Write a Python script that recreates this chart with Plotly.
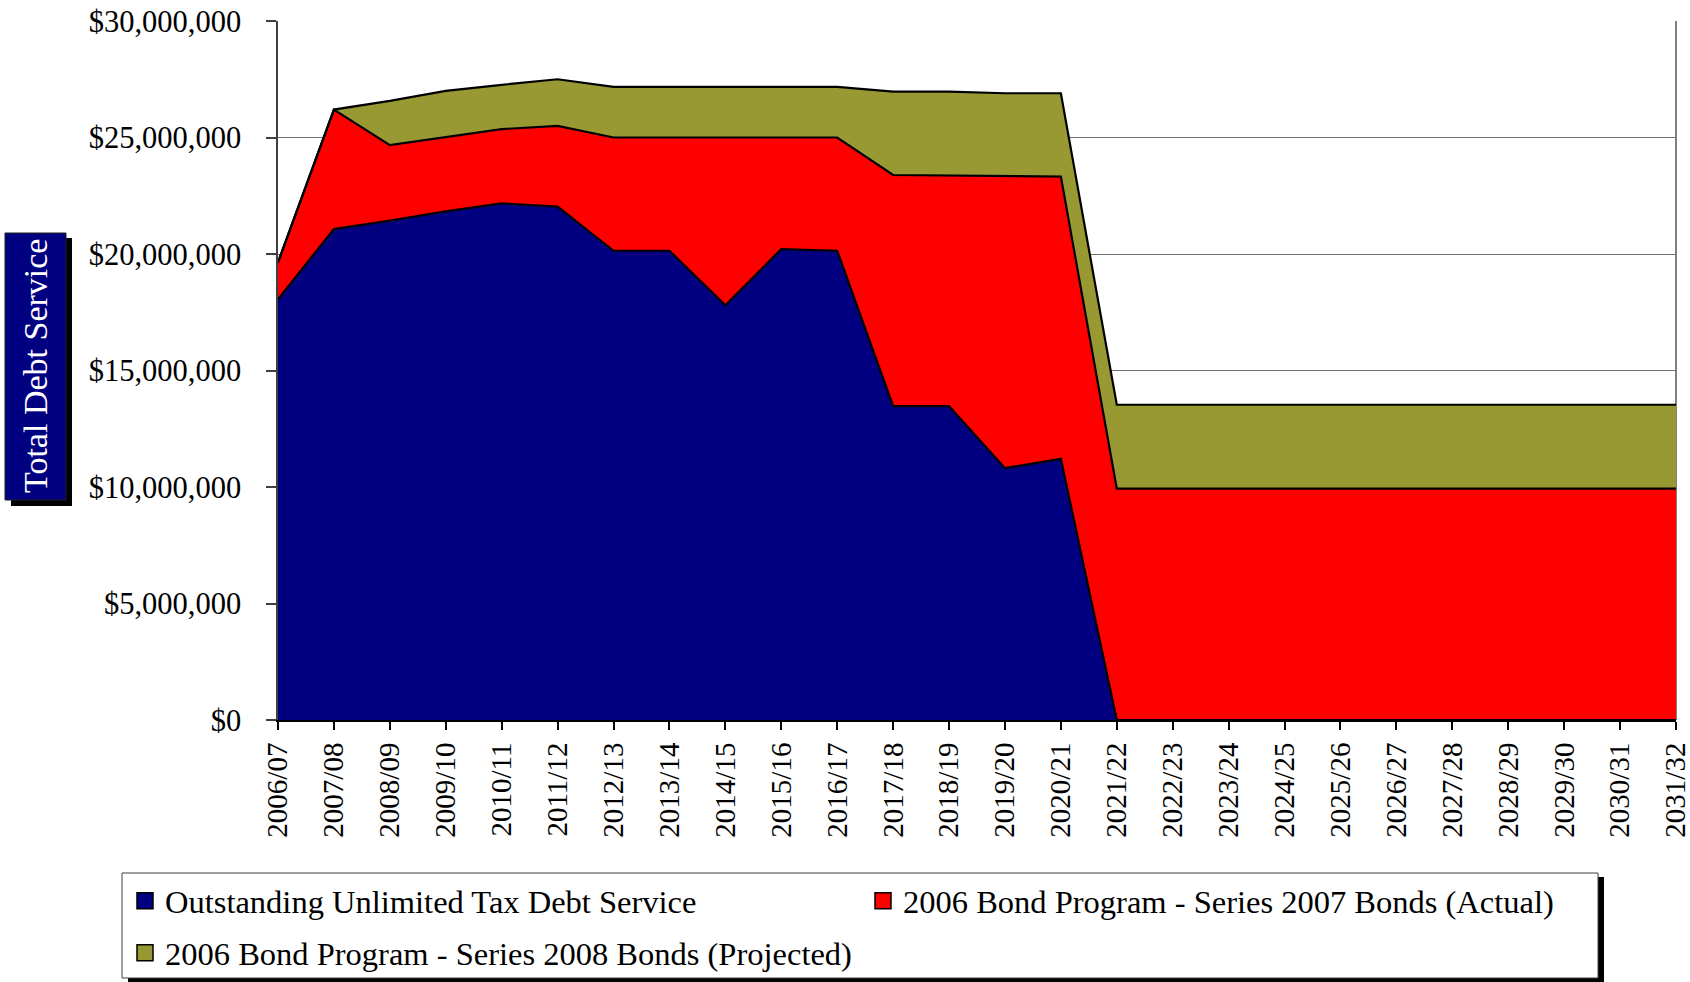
import plotly.graph_objects as go

years = ["2006/07", "2007/08", "2008/09", "2009/10", "2010/11", "2011/12", "2012/13",
         "2013/14", "2014/15", "2015/16", "2016/17", "2017/18", "2018/19", "2019/20",
         "2020/21", "2021/22", "2022/23", "2023/24", "2024/25", "2025/26", "2026/27",
         "2027/28", "2028/29", "2029/30", "2030/31", "2031/32"]

outstanding = [18060000, 21070000, 21430000, 21830000, 22170000, 22030000, 20140000,
               20140000, 17800000, 20210000, 20140000, 13470000, 13470000, 10810000,
               11210000, 0, 0, 0, 0, 0, 0, 0, 0, 0, 0, 0]

series_2007 = [1580000, 5130000, 3240000, 3200000, 3190000, 3470000, 4860000,
               4860000, 7200000, 4790000, 4860000, 9920000, 9890000, 12510000,
               12110000, 9930000, 9930000, 9930000, 9930000, 9930000, 9930000,
               9930000, 9930000, 9930000, 9930000, 9930000]

series_2008 = [0, 0, 1900000, 1970000, 1900000, 2000000, 2170000,
               2170000, 2170000, 2170000, 2170000, 3580000, 3610000, 3580000,
               3580000, 3600000, 3600000, 3600000, 3600000, 3600000, 3600000,
               3600000, 3600000, 3600000, 3600000, 3600000]

names = ["Outstanding Unlimited Tax Debt Service",
         "2006 Bond Program - Series 2007 Bonds (Actual)",
         "2006 Bond Program - Series 2008 Bonds (Projected)"]
colors = ["#000080", "#FF0000", "#999933"]
y_ticks = [0, 5000000, 10000000, 15000000, 20000000, 25000000, 30000000]
y_tick_labels = ["$0", "$5,000,000", "$10,000,000", "$15,000,000", "$20,000,000",
                 "$25,000,000", "$30,000,000"]

FONT = "Liberation Serif, Times New Roman, serif"

W, H = 1690, 982
L, R, T, B = 278, 14, 21, 262
PW, PH = W - L - R, H - T - B


def px(x):
    return (x - L) / PW


def py(y):
    return (H - B - y) / PH


fig = go.Figure()
for vals, name, col in zip([outstanding, series_2007, series_2008], names, colors):
    fig.add_trace(go.Scatter(
        x=years, y=vals, name=name, stackgroup="one", mode="lines",
        line=dict(color="black", width=2.2), fillcolor=col, showlegend=False,
        hoverinfo="x+y+name"))

# legend entries (square symbols)
legend_ids = ["legend", "legend", "legend2"]
for name, col, lg in zip(names, colors, legend_ids):
    fig.add_trace(go.Scatter(
        x=[None], y=[None], name=name, mode="markers", legend=lg,
        marker=dict(symbol="square", size=20, color=col,
                    line=dict(color="black", width=1.5))))

shapes = [
    # legend shadow and box
    dict(type="rect", xref="paper", yref="paper", x0=px(128), x1=px(1604),
         y0=py(984), y1=py(877), fillcolor="black", line=dict(width=0), layer="above"),
    dict(type="rect", xref="paper", yref="paper", x0=px(122), x1=px(1598),
         y0=py(978), y1=py(873), fillcolor="white", line=dict(color="#404040", width=1),
         layer="above"),
    # axis title shadow and box
    dict(type="rect", xref="paper", yref="paper", x0=px(11), x1=px(72),
         y0=py(506), y1=py(238), fillcolor="black", line=dict(width=0), layer="above"),
    dict(type="rect", xref="paper", yref="paper", x0=px(5), x1=px(66),
         y0=py(500), y1=py(233), fillcolor="#000080", line=dict(color="#202020", width=1),
         layer="above"),
    # right border of plot area
    dict(type="line", xref="paper", yref="paper", x0=1, x1=1, y0=0, y1=1,
         line=dict(color="#808080", width=2), layer="below"),
]

fig.update_layout(
    width=W, height=H,
    margin=dict(l=L, r=R, t=T, b=B, autoexpand=False),
    paper_bgcolor="white", plot_bgcolor="white",
    font=dict(family=FONT, color="black"),
    showlegend=True,
    legend=dict(orientation="h", x=px(125), xanchor="left", y=py(873), yanchor="top",
                font=dict(size=32.5, family=FONT), bgcolor="rgba(0,0,0,0)",
                borderwidth=0, entrywidth=693, entrywidthmode="pixels",
                itemsizing="trace", traceorder="normal"),
    legend2=dict(orientation="h", x=px(125), xanchor="left", y=py(925), yanchor="top",
                 font=dict(size=32.5, family=FONT), bgcolor="rgba(0,0,0,0)",
                 borderwidth=0, itemsizing="trace", traceorder="normal"),
    shapes=shapes,
    annotations=[
        dict(text="Total Debt Service", xref="paper", yref="paper",
             x=px(35.5), y=py(366.5), textangle=-90, showarrow=False,
             font=dict(size=34, color="white", family=FONT),
             xanchor="center", yanchor="middle"),
    ],
)

fig.update_xaxes(
    type="category", range=[0, len(years) - 1],
    tickmode="array", tickvals=years, ticktext=years,
    tickangle=-90, tickfont=dict(size=29, family=FONT),
    ticks="outside", ticklen=8, tickcolor="black", tickwidth=1.5,
    showline=True, linecolor="black", linewidth=2,
    showgrid=False, ticklabelstandoff=1, automargin=False)

fig.update_yaxes(
    range=[0, 30000000], tickmode="array", tickvals=y_ticks, ticktext=y_tick_labels,
    tickfont=dict(size=30.5, family=FONT),
    ticks="outside", ticklen=10, tickcolor="#404040", tickwidth=1.5,
    showline=True, linecolor="#404040", linewidth=1.5,
    showgrid=True, gridcolor="#707070", gridwidth=1.2, zeroline=False,
    ticklabelstandoff=19, automargin=False)

fig.write_html("out.html",
               config={"displayModeBar": False},
               post_script="document.body.style.margin='0px';"
                           "document.body.style.overflow='hidden';")
